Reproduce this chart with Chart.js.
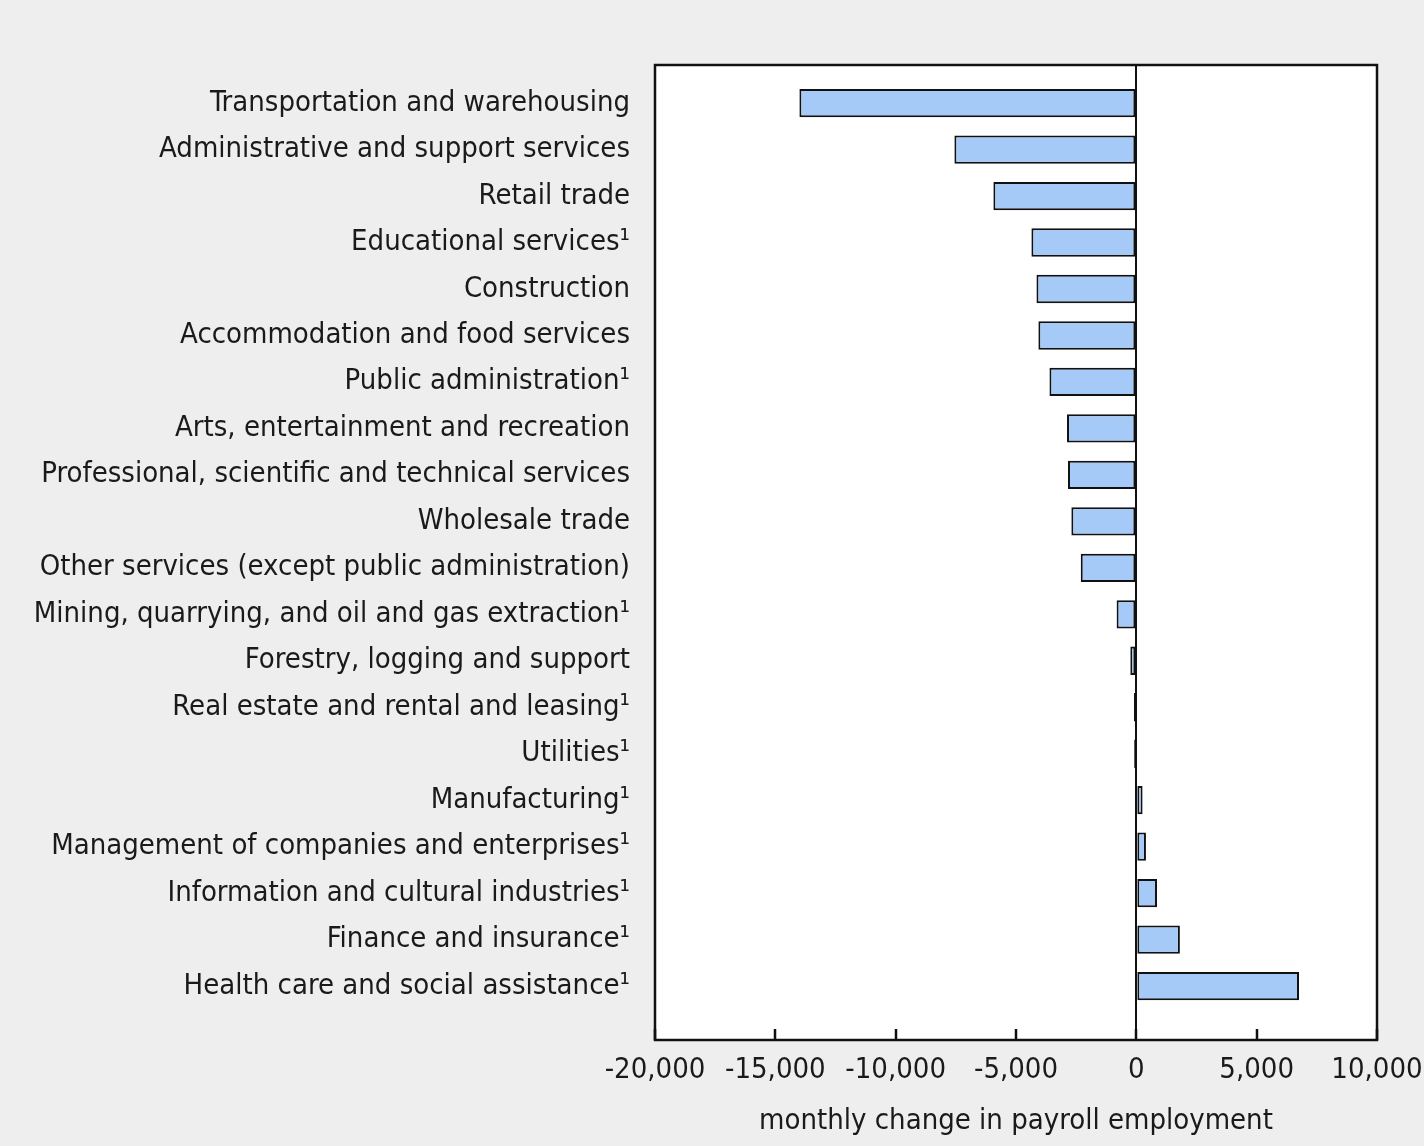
<!DOCTYPE html>
<html>
<head>
<meta charset="utf-8">
<script src="https://cdn.jsdelivr.net/npm/chart.js@4"></script>
<style>
  html, body { margin: 0; padding: 0; background: #eeeeee; }
  #wrap { width: 1424px; height: 1146px; position: relative; }
</style>
</head>
<body>
<div id="wrap"><canvas id="payrollChart"></canvas></div>
<script>
/* ── Data ─────────────────────────────────────────── */
const industries = [
    'Transportation and warehousing',
    'Administrative and support services',
    'Retail trade',
    'Educational services\u00b9',
    'Construction',
    'Accommodation and food services',
    'Public administration\u00b9',
    'Arts, entertainment and recreation',
    'Professional, scientific and technical services',
    'Wholesale trade',
    'Other services (except public administration)',
    'Mining, quarrying, and oil and gas extraction\u00b9',
    'Forestry, logging and support',
    'Real estate and rental and leasing\u00b9',
    'Utilities\u00b9',
    'Manufacturing\u00b9',
    'Management of companies and enterprises\u00b9',
    'Information and cultural industries\u00b9',
    'Finance and insurance\u00b9',
    'Health care and social assistance\u00b9'
];

const monthlyChange = [
    -14000, -7560, -5940, -4360, -4150, -4070, -3610, -2880, -2840, -2700,
    -2310, -820, -250, -100, -90, 260, 400, 860, 1810, 6760
];

const xTicks = [-20000, -15000, -10000, -5000, 0, 5000, 10000];
const xTitle = 'monthly change in payroll employment';

/* ── Shared defaults ──────────────────────────────── */
Chart.defaults.font.family = "'DejaVu Sans Condensed', 'DejaVu Sans', sans-serif";
Chart.defaults.font.size   = 29;
Chart.defaults.color       = '#1a1a1a';

// white plot area + black frame + inward tick marks on the x axis
const framePlugin = {
    id: 'frame',
    beforeDraw(chart) {
        const { ctx, chartArea: a } = chart;
        ctx.save();
        ctx.fillStyle = '#ffffff';
        ctx.fillRect(a.left, a.top, a.right - a.left, a.bottom - a.top);
        ctx.restore();
    },
    afterDraw(chart) {
        const { ctx, chartArea: a } = chart;
        const xs = chart.scales.x;
        ctx.save();
        ctx.strokeStyle = '#111111';
        ctx.lineWidth = 2.5;
        ctx.strokeRect(a.left, a.top, a.right - a.left, a.bottom - a.top);
        ctx.beginPath();
        xs.ticks.forEach(t => {
            const px = Math.round(xs.getPixelForValue(t.value));
            ctx.moveTo(px, a.bottom);
            ctx.lineTo(px, a.bottom - 11);
        });
        ctx.stroke();
        ctx.restore();
    }
};

const ctx = document.getElementById('payrollChart');

new Chart(ctx, {
    type: 'bar',
    data: {
        datasets: [{
            label: xTitle,
            data: monthlyChange.map((v, i) => ({ x: v, y: i })),
            backgroundColor: '#a6caf7',
            borderColor: '#111111',
            borderWidth: 2,
            borderSkipped: false,
            categoryPercentage: 1,
            barPercentage: 0.61
        }]
    },
    options: {
        indexAxis: 'y',
        responsive: true,
        maintainAspectRatio: false,
        animation: false,
        layout: { padding: { top: 65, right: 47, bottom: 0, left: 0 } },
        plugins: {
            legend: { display: false },
            tooltip: { enabled: false }
        },
        scales: {
            x: {
                type: 'linear',
                position: 'bottom',
                min: xTicks[0],
                max: xTicks[xTicks.length - 1],
                afterBuildTicks: s => { s.ticks = xTicks.map(v => ({ value: v })); },
                afterFit: s => { s.height = 106; s.paddingLeft = 0; s.paddingRight = 0; },
                grid: {
                    drawTicks: false,
                    lineWidth: 2,
                    color: c => (c.tick && c.tick.value === 0 ? '#111111' : 'rgba(0,0,0,0)')
                },
                border: { display: false },
                ticks: {
                    padding: 13,
                    maxRotation: 0,
                    autoSkip: false,
                    callback: v => v.toLocaleString('en-US')
                },
                title: {
                    display: true,
                    text: xTitle,
                    padding: { top: 0, bottom: 7 }
                }
            },
            y: {
                type: 'linear',
                reverse: true,
                offset: false,
                min: -0.82,
                max: industries.length + 0.16,
                afterBuildTicks: s => { s.ticks = industries.map((_, i) => ({ value: i })); },
                afterFit: s => { s.width = 655; s.paddingTop = 0; s.paddingBottom = 0; },
                grid: { display: false, offset: false, drawTicks: false },
                border: { display: false },
                ticks: {
                    padding: 25,
                    autoSkip: false,
                    callback: v => industries[v]
                }
            }
        }
    },
    plugins: [framePlugin]
});
</script>
</body>
</html>
